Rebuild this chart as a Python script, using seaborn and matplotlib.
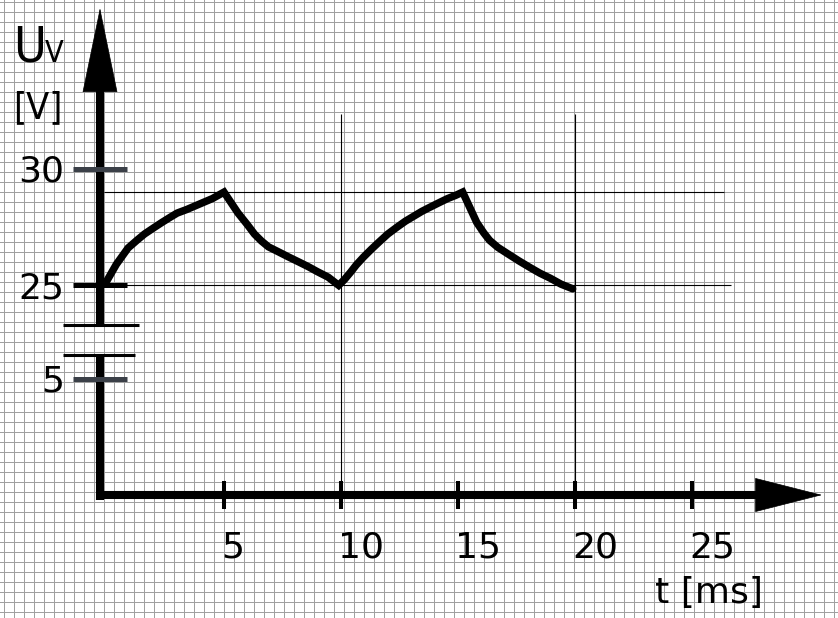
import numpy as np
import matplotlib
matplotlib.use("Agg")
import matplotlib.pyplot as plt
import seaborn as sns
from matplotlib import font_manager
from matplotlib.font_manager import FontProperties

# values: time in ms, U_V in volt
t_ms = [0.0, 0.4, 0.9, 1.3, 1.6, 2.0, 2.35, 2.7, 3.0, 3.4, 3.75, 4.1, 4.5, 5.0,
        5.3, 5.6, 6.0, 6.3, 6.6, 6.9, 7.3, 7.75, 8.2, 8.6, 9.0, 9.45, 9.9,
        10.15, 10.4, 10.65, 10.95, 11.3, 11.65, 12.0, 12.4, 12.75, 13.1, 13.45, 13.8,
        14.2, 14.55, 14.9, 15.2,
        15.5, 15.8, 16.1, 16.35, 16.7, 17.1, 17.6, 18.1, 18.5, 18.95, 19.4, 19.9]
u_volt = [25.2, 25.9, 26.6, 26.95, 27.2, 27.47, 27.7, 27.92, 28.1, 28.25, 28.4, 28.55, 28.72, 29.0,
          28.55, 28.1, 27.6, 27.2, 26.9, 26.65, 26.45, 26.22, 26.0, 25.8, 25.58, 25.35, 25.0,
          25.25, 25.55, 25.87, 26.2, 26.55, 26.88, 27.2, 27.5, 27.75, 27.96, 28.17, 28.35,
          28.55, 28.72, 28.86, 29.0,
          28.35, 27.7, 27.25, 26.93, 26.63, 26.37, 26.05, 25.75, 25.52, 25.3, 25.05, 24.85]

x_ticks = [5, 10, 15, 20, 25]
y_ticks = [30, 25, 5]
y_tick_colors = ["#3b4048", "black", "#3b4048"]
mark_times = [10, 20]   # thin verticals
mark_levels = [29, 25]  # thin horizontals

# sheet geometry
W, H = 838, 618
PX_MS, T0_PX = 23.4, 107
PX_V, V0_PY = 23.3, 495
BRK_LO, BRK_HI = 6.0, 23.3   # where the value axis is cut
GAP = 16.0                   # volts dropped by the cut


def fwd(v):
    v = np.asarray(v, dtype=float)
    c = BRK_HI - GAP
    mid = BRK_LO + (v - BRK_LO) * (c - BRK_LO) / (BRK_HI - BRK_LO)
    return np.where(v <= BRK_LO, v, np.where(v >= BRK_HI, v - GAP, mid))


def inv(d):
    d = np.asarray(d, dtype=float)
    c = BRK_HI - GAP
    mid = BRK_LO + (d - BRK_LO) * (BRK_HI - BRK_LO) / (c - BRK_LO)
    return np.where(d <= BRK_LO, d, np.where(d >= c, d + GAP, mid))


def px2t(px):
    return (px - T0_PX) / PX_MS


def py2v(py):
    return float(inv((V0_PY - py) / PX_V))


sns.set_style("white")
plt.rcParams["font.family"] = ["DejaVu Sans"]
plt.rcParams["text.color"] = "black"

# a narrow face for the U_V label, if one is around
cond = [f.fname for f in font_manager.fontManager.ttflist
        if ("Narrow" in f.fname or "Condensed" in f.fname)
        and not any(s in f.fname for s in ("Bold", "Italic", "Oblique", "Light", "Thin"))]
cond.sort(key=lambda p: (0 if "LiberationSansNarrow" in p else 1, p))
if cond:
    nfont = FontProperties(fname=cond[0])
    u_size, v_size, br_size = 36, 22, 27
else:
    nfont = FontProperties(family="DejaVu Sans")
    u_size, v_size, br_size = 31, 17, 21

fig = plt.figure(figsize=(W / 100, H / 100), dpi=100)

# grid paper
bg = fig.add_axes([0, 0, 1, 1])
bg.set_xlim(0, W)
bg.set_ylim(H, 0)
bg.axis("off")
bg.vlines(np.arange(4, W, 10), 0, H, colors="#a0a0a0", lw=0.72,
          linestyles=(0, (1, 1)), antialiased=False)
bg.hlines(np.arange(2, H, 10), 0, W, colors="#a0a0a0", lw=0.72,
          linestyles=(0, (1, 1)), antialiased=False)

ax = fig.add_axes([0, 0, 1, 1], facecolor="none")
ax.set_yscale("function", functions=(fwd, inv))
ax.set_xlim(px2t(0), px2t(W))
ax.set_ylim(py2v(H), py2v(0))
ax.axis("off")

X_AX = px2t(100)

# thin helper lines
ax.vlines(mark_times, 0, py2v(114), colors="black", lw=0.8)
ax.hlines(mark_levels[0], px2t(104), px2t(724), colors="black", lw=0.8)
ax.hlines(mark_levels[1], px2t(123), px2t(731), colors="black", lw=0.8)

# axes with arrows
shaft = dict(color="black", lw=5.8, solid_capstyle="butt")
ax.plot([X_AX, X_AX], [py2v(500), BRK_LO], **shaft)
ax.plot([X_AX, X_AX], [BRK_HI, py2v(88)], **shaft)
ax.plot([px2t(96), px2t(760)], [0, 0], **shaft)
ax.annotate("", xy=(X_AX, py2v(8)), xytext=(X_AX, py2v(90)),
            arrowprops=dict(arrowstyle="-|>,head_length=5.9,head_width=1.22",
                            mutation_scale=10, lw=0.5, color="black",
                            shrinkA=0, shrinkB=0))
ax.annotate("", xy=(px2t(822), 0), xytext=(px2t(757), 0),
            arrowprops=dict(arrowstyle="-|>,head_length=4.68,head_width=1.19",
                            mutation_scale=10, lw=0.5, color="black",
                            shrinkA=0, shrinkB=0))

# axis cut
ax.hlines(BRK_LO, px2t(63), px2t(135), colors="black", lw=2.2)
ax.hlines(BRK_HI, px2t(63), px2t(139), colors="black", lw=2.2)

# ticks
ax.plot(x_ticks, [0] * len(x_ticks), ls="none", marker="|", ms=20, mew=2.9, color="black")
for v, c in zip(y_ticks, y_tick_colors):
    ax.plot([X_AX], [v], marker="_", ms=39, mew=3.6, color=c)

# curve
sns.lineplot(x=t_ms, y=u_volt, ax=ax, color="black", linewidth=5.4, sort=False,
             estimator=None, legend=False, solid_joinstyle="miter")

# labels
for v in y_ticks:
    ax.annotate(str(v), (X_AX, v), xytext=(-36 * 0.72, -13 * 0.72), textcoords="offset points",
                ha="right", va="baseline", fontsize=26, color="black")
for t in x_ticks:
    ax.annotate(str(t), (t, 0), xytext=(-3 * 0.72, -62 * 0.72), textcoords="offset points",
                ha="left", va="baseline", fontsize=26, color="black")

fig.text(13 / W, 1 - 62 / H, "U", fontproperties=nfont, fontsize=u_size, ha="left", va="baseline")
fig.text(45 / W, 1 - 62 / H, "V", fontproperties=nfont, fontsize=v_size, ha="left", va="baseline")
fig.text(13 / W, 1 - 118 / H, "[V]", fontproperties=nfont, fontsize=br_size, ha="left", va="baseline")
fig.text(655 / W, 1 - 603 / H, "t [ms]", fontsize=26, ha="left", va="baseline")

fig.savefig("out.png", dpi=100)
